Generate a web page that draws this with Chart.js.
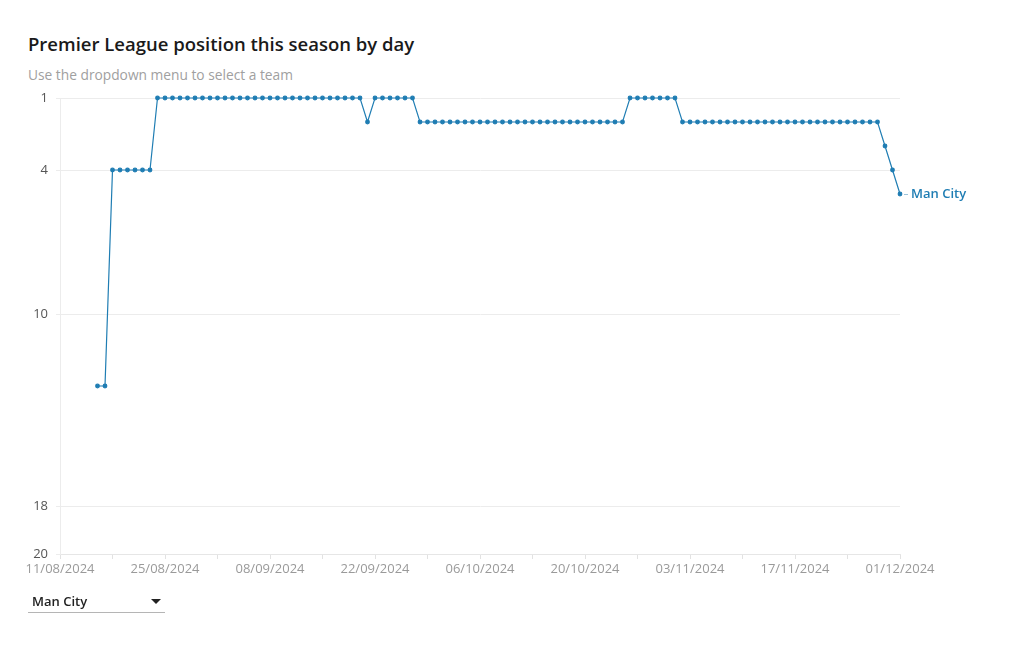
<!DOCTYPE html>
<html>
<head>
<meta charset="utf-8">
<script src="https://cdn.jsdelivr.net/npm/chart.js@4.4.1/dist/chart.umd.min.js"></script>
<style>
  body { margin: 0; background: #fff; font-family: "Open Sans", "Noto Sans", sans-serif; }
  #wrap { position: relative; width: 1020px; height: 650px; overflow: hidden; }
  #title { position: absolute; left: 28px; top: 31px; font-size: 18.5px; font-weight: 600; color: #1a1a1a; }
  #sub { position: absolute; left: 28px; top: 65px; font-size: 13.75px; color: #a0a0a0; }
  #myChart { position: absolute; left: 0; top: 0; }
  #drop { position: absolute; left: 28px; top: 591px; width: 137px; height: 21px; border-bottom: 1px solid #b5b5b5; }
  #drop span { position: absolute; left: 4px; top: 1px; font-size: 13px; font-weight: 600; color: #222; }
  #arrow { position: absolute; left: 123px; top: 8px; width: 0; height: 0;
           border-left: 5px solid transparent; border-right: 5px solid transparent; border-top: 5px solid #222; }
</style>
</head>
<body>
<div id="wrap">
  <div id="title">Premier League position this season by day</div>
  <div id="sub">Use the dropdown menu to select a team</div>
  <canvas id="myChart" width="1020" height="650"></canvas>
  <div id="drop"><span>Man City</span><div id="arrow"></div></div>
</div>
<script>
var ctx = document.getElementById('myChart');

const team = 'Man City';
const lineColor = '#1f7db3';

// first day shown on the x axis, and first day with a position
const axisStart = '2024-08-11';
const seriesStart = '2024-08-16';

// league position for each day from 16/08/2024 to 01/12/2024
const positions = [
    13, 13,
    4, 4, 4, 4, 4, 4,
    1, 1, 1, 1, 1, 1, 1, 1, 1, 1, 1, 1, 1, 1, 1, 1, 1, 1, 1, 1, 1, 1, 1, 1, 1, 1, 1, 1,
    2,
    1, 1, 1, 1, 1, 1,
    2, 2, 2, 2, 2, 2, 2, 2, 2, 2, 2, 2, 2, 2, 2, 2, 2, 2, 2, 2, 2, 2, 2, 2, 2, 2, 2, 2,
    1, 1, 1, 1, 1, 1, 1,
    2, 2, 2, 2, 2, 2, 2, 2, 2, 2, 2, 2, 2, 2, 2, 2, 2, 2, 2, 2, 2, 2, 2, 2, 2, 2, 2,
    3, 4, 5
];

const xTickLabels = ['11/08/2024', '25/08/2024', '08/09/2024', '22/09/2024', '06/10/2024',
                     '20/10/2024', '03/11/2024', '17/11/2024', '01/12/2024'];
const yTicks = [1, 4, 10, 18, 20];

const dayMs = 86400000;
let offset = Math.round((new Date(seriesStart) - new Date(axisStart)) / dayMs);
let points = positions.map(function(p, i){ return {x: i + offset, y: p}; });

// draws the team name next to the last point
const endLabel = {
    id: 'endLabel',
    afterDatasetsDraw(chart){
        let meta = chart.getDatasetMeta(0);
        let last = meta.data[meta.data.length - 1];
        let c = chart.ctx;
        c.save();
        c.strokeStyle = '#9cc3da';
        c.lineWidth = 1;
        c.beginPath();
        c.moveTo(last.x + 4, last.y + 0.5);
        c.lineTo(last.x + 8, last.y + 0.5);
        c.stroke();
        c.fillStyle = lineColor;
        c.font = '600 13px "Open Sans", "Noto Sans", sans-serif';
        c.textBaseline = 'middle';
        c.fillText(team, last.x + 11, last.y);
        c.restore();
    }
};

var chart = new Chart(ctx, {
    type: 'line',
    data: {
        datasets: [{
            label: team,
            data: points,
            borderColor: lineColor,
            backgroundColor: lineColor,
            borderWidth: 1.2,
            pointRadius: 1.8,
            pointHoverRadius: 3,
            tension: 0,
            clip: false
        }]
    },
    options: {
        responsive: false,
        animation: false,
        layout: { padding: { left: 0, top: 98, right: 120, bottom: 66 } },
        plugins: { legend: { display: false }, tooltip: { enabled: false } },
        scales: {
            x: {
                type: 'linear',
                min: 0,
                max: 112,
                afterFit: function(scale){ scale.height = 30; },
                ticks: {
                    stepSize: 7,
                    autoSkip: false,
                    maxRotation: 0,
                    padding: 2,
                    color: '#9a9a9a',
                    font: { family: '"Open Sans", "Noto Sans", sans-serif', size: 13 },
                    callback: function(v){ return v % 14 === 0 ? xTickLabels[v / 14] : ''; }
                },
                grid: { drawOnChartArea: false, drawTicks: true, tickLength: 5, color: '#e2e2e2' },
                border: { display: true, color: '#e6e6e6' }
            },
            y: {
                reverse: true,
                min: 1,
                max: 20,
                afterFit: function(scale){ scale.width = 60; },
                afterBuildTicks: function(scale){
                    scale.ticks = yTicks.map(function(v){ return {value: v}; });
                },
                ticks: {
                    padding: 8,
                    color: '#555',
                    font: { family: '"Open Sans", "Noto Sans", sans-serif', size: 13 }
                },
                grid: { color: '#ececec', tickLength: 4 },
                border: { display: true, color: '#ececec' }
            }
        }
    },
    plugins: [endLabel]
});
</script>
</body>
</html>
